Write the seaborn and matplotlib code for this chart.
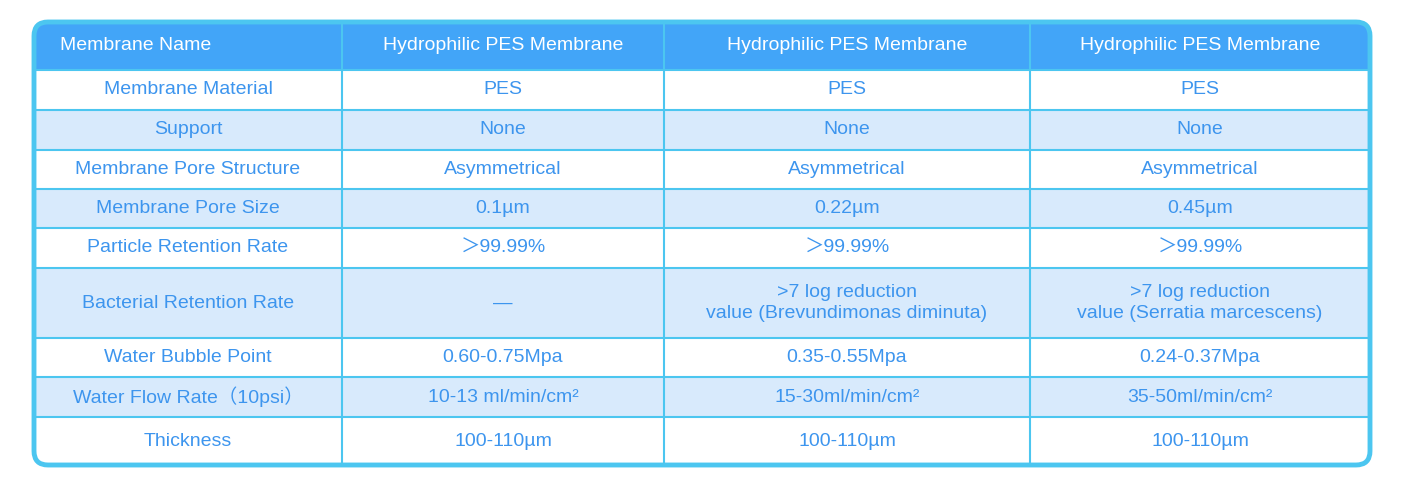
import matplotlib
matplotlib.use("Agg")
import matplotlib.pyplot as plt
import seaborn as sns
from matplotlib.patches import FancyBboxPatch, Rectangle

sns.set_style("white")
plt.rcParams['font.family'] = ['Liberation Sans', 'Noto Sans CJK SC', 'DejaVu Sans']

header = ["Membrane Name", "Hydrophilic PES Membrane", "Hydrophilic PES Membrane", "Hydrophilic PES Membrane"]
row_labels = ["Membrane Material", "Support", "Membrane Pore Structure", "Membrane Pore Size",
              "Particle Retention Rate", "Bacterial Retention Rate", "Water Bubble Point",
              "Water Flow Rate（10psi）", "Thickness"]
col1 = ["PES", "None", "Asymmetrical", "0.1µm", "＞99.99%", "—", "0.60-0.75Mpa", "10-13 ml/min/cm²", "100-110µm"]
col2 = ["PES", "None", "Asymmetrical", "0.22µm", "＞99.99%", ">7 log reduction\nvalue (Brevundimonas diminuta)",
        "0.35-0.55Mpa", "15-30ml/min/cm²", "100-110µm"]
col3 = ["PES", "None", "Asymmetrical", "0.45µm", "＞99.99%", ">7 log reduction\nvalue (Serratia marcescens)",
        "0.24-0.37Mpa", "35-50ml/min/cm²", "100-110µm"]

W, H = 1405, 492
fig = plt.figure(figsize=(W/100, H/100), dpi=100)
ax = fig.add_axes([0, 0, 1, 1])
ax.set_xlim(0, W); ax.set_ylim(H, 0); ax.axis("off")

xs = [34, 342, 664, 1030, 1370]
ys = [22, 70, 110, 150, 189, 228, 268, 338, 377, 417, 465]
line_c = "#4cc6f0"; txt_c = "#3d95ee"; head_c = "#42a5f8"; alt_c = "#d8eafc"

ax.add_patch(FancyBboxPatch((xs[0], ys[0]), xs[-1]-xs[0], ys[1]-ys[0],
             boxstyle="round,pad=0,rounding_size=14", fc=head_c, ec="none", zorder=1))
ax.add_patch(Rectangle((xs[0], ys[0]+20), xs[-1]-xs[0], ys[1]-ys[0]-20, fc=head_c, ec="none", zorder=1))
for i in range(9):
    fc = "white" if i % 2 == 0 else alt_c
    ax.add_patch(Rectangle((xs[0], ys[i+1]), xs[-1]-xs[0], ys[i+2]-ys[i+1], fc=fc, ec="none", zorder=1))
for y in ys[2:-1]:
    ax.plot([xs[0], xs[-1]], [y, y], color=line_c, lw=1.5, zorder=2)
for x in xs[1:-1]:
    ax.plot([x, x], [ys[0], ys[-1]], color=line_c, lw=1.5, zorder=2)
ax.plot([xs[0], xs[-1]], [ys[1], ys[1]], color=line_c, lw=1.5, zorder=2)
ax.add_patch(FancyBboxPatch((xs[0], ys[0]), xs[-1]-xs[0], ys[-1]-ys[0],
             boxstyle="round,pad=0,rounding_size=14", fc="none", ec=line_c, lw=3.5, zorder=3))

fs = 14
ax.text(60, (ys[0]+ys[1])/2, header[0], color="white", fontsize=fs, ha="left", va="center", zorder=4)
for j in range(1, 4):
    ax.text((xs[j]+xs[j+1])/2, (ys[0]+ys[1])/2, header[j], color="white", fontsize=fs,
            ha="center", va="center", zorder=4)
cols = [row_labels, col1, col2, col3]
for i in range(9):
    yc = (ys[i+1]+ys[i+2])/2
    for j in range(4):
        ax.text((xs[j]+xs[j+1])/2, yc, cols[j][i], color=txt_c, fontsize=fs,
                ha="center", va="center", linespacing=1.3, zorder=4)

fig.savefig("out.png", dpi=100)
